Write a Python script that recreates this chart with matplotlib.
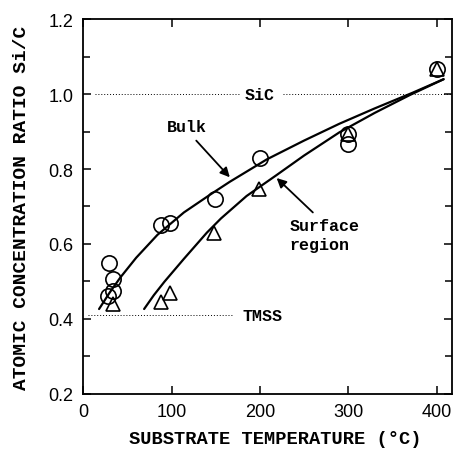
import matplotlib
matplotlib.use('Agg')
import matplotlib.pyplot as plt
from matplotlib.ticker import MultipleLocator

# measured Si/C ratios
bulk_temp = [29, 34, 34, 28, 88, 98, 149, 200, 300, 300, 400]
bulk_ratio = [0.549, 0.506, 0.475, 0.460, 0.651, 0.656, 0.720, 0.829, 0.894, 0.867, 1.066]
surf_temp = [34, 88, 98, 148, 199, 300, 400]
surf_ratio = [0.440, 0.446, 0.469, 0.630, 0.747, 0.894, 1.066]

# fitted trend lines
bulk_fit_x = [18, 30, 42, 60, 84, 114, 144, 166, 208, 250, 290, 330, 373, 408]
bulk_fit_y = [0.426, 0.470, 0.510, 0.563, 0.624, 0.684, 0.732, 0.766, 0.826, 0.876,
              0.921, 0.962, 1.004, 1.040]
surf_fit_x = [69, 80, 92, 114, 140, 156, 185, 219, 250, 290, 330, 370, 408]
surf_fit_y = [0.426, 0.463, 0.499, 0.560, 0.630, 0.668, 0.728, 0.784, 0.836, 0.898,
              0.950, 0.998, 1.040]

sic_ratio = 1.0
tmss_ratio = 0.41

mono = 'Liberation Mono'
plt.rcParams['font.family'] = 'Liberation Sans'

fig = plt.figure(figsize=(4.57, 4.52), dpi=100)
ax = fig.add_axes([0.182, 0.127, 0.808, 0.828])

# reference lines for SiC and TMSS
ax.plot([13, 178], [sic_ratio, sic_ratio], ls=(0, (1, 2)), color='k', lw=0.7)
ax.plot([226, 418], [sic_ratio, sic_ratio], ls=(0, (1, 2)), color='k', lw=0.7)
ax.plot([5, 168], [tmss_ratio, tmss_ratio], ls=(0, (1, 2)), color='k', lw=0.7)
ax.text(200, sic_ratio, 'SiC', family=mono, fontweight='bold', fontsize=12,
        ha='center', va='center')
ax.text(203, tmss_ratio, 'TMSS', family=mono, fontweight='bold', fontsize=12,
        ha='center', va='center')

ax.plot(bulk_fit_x, bulk_fit_y, color='k', lw=1.6, solid_capstyle='round')
ax.plot(surf_fit_x, surf_fit_y, color='k', lw=1.6, solid_capstyle='round')

ax.plot(bulk_temp, bulk_ratio, 'o', ms=11, mfc='none', mec='k', mew=1.2)
ax.plot(surf_temp, surf_ratio, '^', ms=10, mfc='none', mec='k', mew=1.2)

arrow = dict(arrowstyle='-|>', color='k', lw=1.3, mutation_scale=14,
             shrinkA=0, shrinkB=0)
ax.text(117, 0.913, 'Bulk', family=mono, fontweight='bold', fontsize=12,
        ha='center', va='center')
ax.annotate('', xy=(166, 0.778), xytext=(128, 0.876), arrowprops=arrow)
ax.text(234, 0.624, 'Surface\nregion', family=mono, fontweight='bold', fontsize=12,
        ha='left', va='center', linespacing=1.3)
ax.annotate('', xy=(219, 0.776), xytext=(260, 0.684), arrowprops=arrow)

ax.set_xlim(0, 418)
ax.set_ylim(0.2, 1.2)
ax.xaxis.set_major_locator(MultipleLocator(100))
ax.yaxis.set_major_locator(MultipleLocator(0.2))
ax.yaxis.set_minor_locator(MultipleLocator(0.1))
ax.yaxis.set_major_formatter(plt.FuncFormatter(lambda v, p: '%.1f' % v))
ax.tick_params(which='both', direction='in', top=True, right=True,
               width=1.1, labelsize=13, pad=7)
ax.tick_params(which='major', length=6)
ax.tick_params(which='minor', length=5)
for s in ax.spines.values():
    s.set_linewidth(1.3)

ax.set_xlabel('SUBSTRATE TEMPERATURE (\u00b0C)', family=mono, fontweight='bold',
              fontsize=13.5)
ax.set_ylabel('ATOMIC CONCENTRATION RATIO Si/C', family=mono, fontweight='bold',
              fontsize=14)
ax.xaxis.set_label_coords(0.52, -0.096)
ax.yaxis.set_label_coords(-0.144, 0.5)

fig.savefig('out.png', dpi=100)
